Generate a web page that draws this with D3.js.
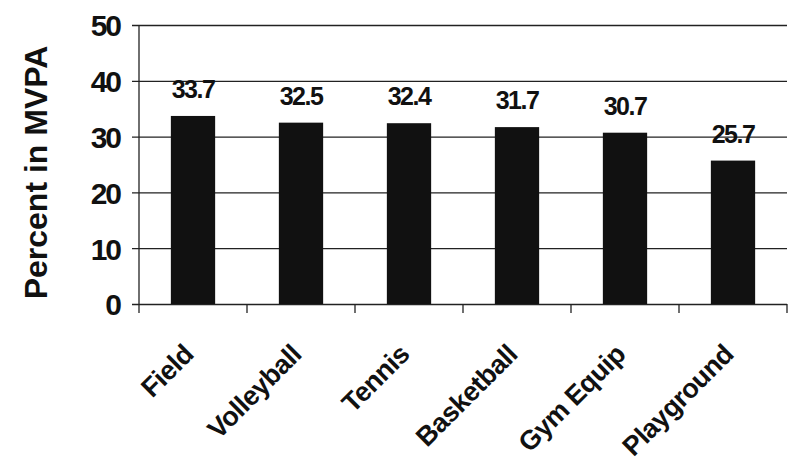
<!DOCTYPE html>
<html>
<head>
<meta charset="utf-8">
<script src="https://cdn.jsdelivr.net/npm/d3@7"></script>
<style>
  body { margin: 0; background: #fff; }
  svg text { font-family: "Liberation Sans", Arial, sans-serif; font-weight: bold; fill: #111; }
</style>
</head>
<body>
<div id="chart"></div>
<script>
// chart data
const categories = ['Field', 'Volleyball', 'Tennis', 'Basketball', 'Gym Equip', 'Playground'];
const values = [33.7, 32.5, 32.4, 31.7, 30.7, 25.7];
const yTicks = [0, 10, 20, 30, 40, 50];

const width = 800, height = 465;
const margin = { top: 25, right: 13, bottom: 161, left: 139 };
const innerW = width - margin.left - margin.right;
const innerH = height - margin.top - margin.bottom;

const svg = d3.select('#chart').append('svg')
  .attr('width', width)
  .attr('height', height);

const chart = svg.append('g')
  .attr('transform', `translate(${margin.left},${margin.top})`);

const xScale = d3.scaleBand()
  .domain(categories)
  .range([0, innerW])
  .paddingInner(0.59)
  .paddingOuter(0.295);

const yScale = d3.scaleLinear()
  .domain([0, 50])
  .range([innerH, 0]);

// gridlines + y ticks
const yAxis = d3.axisLeft(yScale)
  .tickValues(yTicks)
  .tickSize(-innerW)
  .tickPadding(19)
  .tickFormat(d3.format('d'));

const yAxisG = chart.append('g').attr('class', 'y-axis').call(yAxis);
yAxisG.select('.domain').remove();
yAxisG.selectAll('.tick line')
  .attr('x1', -7)
  .attr('stroke', '#222')
  .attr('stroke-width', 1.3);
yAxisG.selectAll('.tick text')
  .style('font-size', '30px')
  .style('letter-spacing', '-2px')
  .attr('dy', '0.36em');

// vertical axis line
chart.append('line')
  .attr('x1', 0).attr('x2', 0)
  .attr('y1', 0).attr('y2', innerH + 9)
  .attr('stroke', '#222')
  .attr('stroke-width', 1.3);

// category boundary ticks below the x axis
const bounds = categories.map(c => xScale(c) - xScale.step() * xScale.paddingInner() / 2);
bounds.push(innerW);
chart.selectAll('.x-tick')
  .data(bounds.slice(1))
  .join('line')
  .attr('class', 'x-tick')
  .attr('x1', d => d).attr('x2', d => d)
  .attr('y1', innerH).attr('y2', innerH + 9)
  .attr('stroke', '#222')
  .attr('stroke-width', 1.3);

// bars
chart.selectAll('.bar')
  .data(values)
  .join('rect')
  .attr('class', 'bar')
  .attr('x', (d, i) => xScale(categories[i]))
  .attr('y', d => yScale(d))
  .attr('width', xScale.bandwidth())
  .attr('height', d => innerH - yScale(d))
  .attr('fill', '#111');

// value labels
chart.selectAll('.val')
  .data(values)
  .join('text')
  .attr('class', 'val')
  .attr('x', (d, i) => xScale(categories[i]) + xScale.bandwidth() / 2)
  .attr('y', d => yScale(d) - 18)
  .attr('text-anchor', 'middle')
  .style('font-size', '25px')
  .style('letter-spacing', '-1.5px')
  .text(d => d.toFixed(1));

// category labels, rotated
chart.selectAll('.cat')
  .data(categories)
  .join('text')
  .attr('class', 'cat')
  .attr('transform', d => `translate(${xScale(d) + xScale.bandwidth() / 2 + 2},${innerH + 52}) rotate(-45)`)
  .attr('text-anchor', 'end')
  .style('font-size', '27px')
  .style('letter-spacing', '-0.5px')
  .text(d => d);

// y-axis title
svg.append('text')
  .attr('transform', `translate(47,${margin.top + innerH / 2 + 8}) rotate(-90)`)
  .attr('text-anchor', 'middle')
  .style('font-size', '32px')
  .text('Percent in MVPA');
</script>
</body>
</html>
